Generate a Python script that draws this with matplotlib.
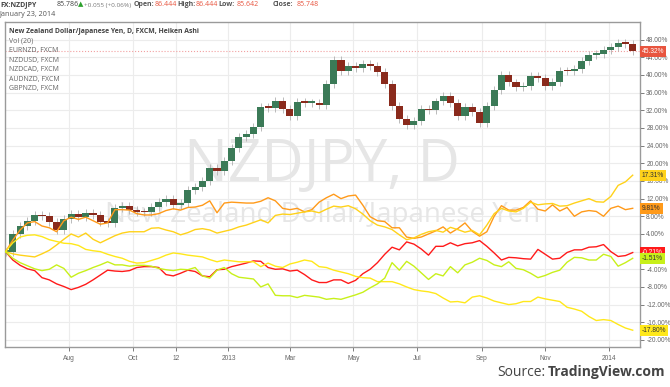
import matplotlib
matplotlib.use('Agg')
import matplotlib.pyplot as plt
import matplotlib.transforms as mtransforms
from matplotlib.ticker import FuncFormatter
import pandas as pd
import numpy as np

plt.rcParams['font.family'] = ['Open Sans', 'DejaVu Sans']

# weekly samples, percent change since start (comparison mode)
dates = pd.date_range('2012-06-01', periods=87, freq='7D')

nzdjpy_ha = [0, 4.0, 5.8, 7.0, 8.3, 8.0, 6.8, 5.0, 7.4, 8.6,
             7.8, 8.7, 8.2, 6.8, 6.5, 9.8, 10.3, 9.4, 9.0, 8.9,
             10.2, 11.2, 12.0, 10.5, 11.0, 14.0, 14.6, 16.0, 19.0, 18.2,
             20.5, 23.5, 26.0, 26.7, 28.3, 32.8, 32.5, 34.2, 32.3, 30.8,
             33.9, 33.6, 33.6, 33.2, 38.0, 43.5, 41.0, 42.0, 41.5, 42.5,
             42.0, 40.7, 38.0, 33.0, 30.0, 28.7, 29.5, 32.3, 32.0, 34.0,
             35.3, 33.6, 30.6, 32.8, 31.6, 29.1, 33.0, 36.6, 40.0, 38.3,
             37.2, 37.5, 39.8, 39.4, 37.5, 38.5, 41.0, 40.8, 41.3, 43.2,
             44.5, 44.8, 45.6, 46.4, 47.2, 47.0, 45.32]

eurnzd = [0, -1.9, -3.1, -3.9, -4.3, -5.9, -6.4, -7.3, -7.9, -8.6,
          -8.1, -7.4, -6.4, -5.3, -4.2, -4.4, -4.5, -4.3, -3.6, -3.4,
          -3.4, -3.6, -5.2, -5.5, -4.9, -4.2, -4.5, -5.5, -5.7, -4.1,
          -4.0, -3.4, -3.0, -2.6, -2.1, -2.2, -3.6, -4.0, -3.9, -4.4,
          -4.2, -5.2, -6.4, -7.0, -7.0, -6.4, -6.4, -7.2, -6.5, -5.0,
          -4.0, -2.5, -0.6, 1.0, 0.4, 2.2, 1.7, 0.6, -0.8, 1.2,
          1.2, 2.0, 1.3, 1.8, 2.0, 2.5, 1.2, -0.3, -1.9, -1.3,
          -1.4, -1.6, -1.7, 0.5, -0.6, -1.7, -1.5, -0.2, 0.4, 0.4,
          1.0, 1.1, 1.6, 0.0, -1.1, -0.9, -0.21]

nzdusd = [0, 2.6, 4.9, 6.5, 6.8, 5.8, 5.4, 4.5, 7.0, 7.8,
          7.3, 7.8, 7.0, 6.2, 6.5, 9.5, 9.5, 9.4, 8.6, 8.3,
          8.3, 8.6, 9.3, 9.7, 9.4, 10.0, 10.1, 10.5, 11.5, 8.8,
          11.0, 11.2, 11.1, 11.0, 11.0, 11.4, 12.2, 11.5, 9.8, 9.5,
          9.8, 9.0, 9.5, 11.2, 12.2, 13.0, 12.0, 12.6, 12.8, 10.5,
          7.9, 7.0, 6.8, 5.4, 5.4, 3.3, 3.0, 3.3, 4.0, 4.7,
          5.6, 4.2, 5.2, 6.5, 4.6, 3.5, 4.5, 8.0, 10.4, 9.4,
          9.4, 10.0, 11.5, 9.6, 9.2, 10.6, 9.2, 10.0, 8.0, 9.0,
          9.3, 9.1, 8.0, 9.8, 10.3, 9.5, 9.81]

nzdcad = [0, -0.5, -0.8, -1.0, -1.2, -0.5, 0.3, 1.5, 2.8, 4.0,
          3.3, 4.2, 2.8, 2.0, 2.8, 3.6, 4.2, 4.5, 4.5, 4.5,
          5.3, 5.4, 4.9, 4.5, 3.8, 4.3, 5.0, 5.2, 4.9, 4.2,
          4.6, 5.0, 5.6, 6.0, 6.6, 7.2, 6.5, 8.2, 8.5, 8.4,
          8.7, 9.0, 9.2, 8.8, 9.6, 10.3, 10.1, 10.4, 9.7, 8.5,
          7.0, 6.0, 5.6, 5.0, 3.8, 2.7, 3.1, 3.9, 4.5, 4.8,
          4.4, 5.5, 5.0, 4.4, 4.8, 3.8, 6.0, 8.6, 9.8, 9.2,
          9.0, 9.8, 11.2, 10.6, 10.8, 10.9, 10.3, 10.4, 11.0, 11.5,
          12.0, 11.3, 11.2, 12.5, 15.0, 15.8, 17.31]

audnzd = [0, 2.0, 3.3, 3.7, 3.8, 3.4, 2.7, 2.3, 1.9, 1.8,
          1.4, 0.5, 0.2, 0.0, -0.6, -1.1, -1.5, -2.2, -2.6, -2.5,
          -2.0, -1.5, -0.8, -0.3, -0.5, -0.8, -1.0, -1.2, -1.8, -2.3,
          -1.9, -2.1, -2.3, -2.3, -2.3, -3.4, -2.6, -3.3, -3.6, -2.8,
          -2.4, -1.9, -2.2, -3.4, -3.6, -4.2, -4.6, -5.0, -5.6, -5.9,
          -6.0, -6.8, -6.8, -6.8, -7.3, -8.0, -8.6, -8.9, -9.1, -9.5,
          -10.5, -11.4, -11.3, -11.6, -10.3, -10.0, -10.5, -11.2, -11.6, -12.0,
          -11.8, -11.3, -11.3, -10.3, -10.7, -11.0, -11.3, -12.6, -13.0, -13.5,
          -14.7, -15.6, -15.4, -15.6, -16.5, -17.3, -17.80]

gbpnzd = [0, -1.5, -2.5, -3.2, -3.9, -4.3, -4.0, -3.0, -3.8, -5.8,
          -4.9, -4.3, -3.6, -3.0, -2.3, -3.0, -3.0, -3.3, -3.1, -3.1,
          -3.3, -3.8, -4.1, -4.3, -4.0, -4.1, -3.6, -5.5, -6.0, -4.2,
          -3.6, -5.0, -5.8, -6.0, -6.2, -8.0, -7.3, -9.9, -10.0, -10.0,
          -10.4, -9.9, -10.1, -10.3, -10.8, -10.6, -10.8, -10.3, -9.8, -9.2,
          -8.2, -7.3, -6.0, -2.5, -4.2, -2.2, -3.3, -4.8, -6.3, -5.0,
          -5.5, -3.4, -4.8, -3.0, -2.4, -1.5, -2.0, -3.0, -3.4, -2.3,
          -3.8, -4.1, -4.9, -5.9, -5.4, -4.7, -4.2, -2.4, -1.3, -1.4,
          -1.9, -1.9, -0.6, -1.1, -3.3, -2.5, -1.51]

series_names = ['EURNZD', 'NZDUSD', 'NZDCAD', 'AUDNZD', 'GBPNZD']
series_colors = ['#ff1a1a', '#ff9a1a', '#ffd21a', '#ffe81a', '#c8f01a']
series_values = [eurnzd, nzdusd, nzdcad, audnzd, gbpnzd]

x_ticks = ['2012-08-01', '2012-10-01', '2012-11-12', '2013-01-01', '2013-03-01',
           '2013-05-01', '2013-07-01', '2013-09-01', '2013-11-01', '2014-01-01']
x_labels = ['Aug', 'Oct', '12', '2013', 'Mar', 'May', 'Jul', 'Sep', 'Nov', '2014']
y_ticks = list(range(-20, 49, 4))

W, H = 670, 387
fig = plt.figure(figsize=(W / 100, H / 100), dpi=100)
ax = fig.add_axes([5 / W, 40 / H, 635 / W, 325 / H])

# heiken ashi candles
close = np.array(nzdjpy_ha)
opn = np.concatenate([[0], close[:-1]])
lo = np.minimum(opn, close)
hi = np.maximum(opn, close)
up = close >= opn
ax.vlines(dates, lo - 0.9, hi + 0.9, color='#b0b0b0', lw=0.6, zorder=3)
ax.bar(dates, np.maximum(hi - lo, 0.4), bottom=lo, width=6.8,
       color=np.where(up, '#3b7a57', '#8a2a1c'), zorder=4)

for vals, col in zip(series_values, series_colors):
    ax.plot(dates, vals, color=col, lw=1.0, zorder=5)

ax.axhline(nzdjpy_ha[-1], color='#f2a0a0', ls=':', lw=0.8, zorder=2)

# watermark
ax.text(0.5, 0.56, 'NZDJPY, D', transform=ax.transAxes, ha='center', va='center',
        fontsize=42, color='#e6e6e6', zorder=1)
ax.text(0.5, 0.405, 'New Zealand Dollar/Japanese Yen', transform=ax.transAxes,
        ha='center', va='center', fontsize=20, color='#e6e6e6', zorder=1)

ax.set_xlim(pd.Timestamp('2012-05-31 12:00'), pd.Timestamp('2014-01-31'))
ax.set_ylim(-21.6, 52)
ax.set_xticks(pd.to_datetime(x_ticks))
ax.set_xticklabels(x_labels)
ax.set_yticks(y_ticks)
ax.yaxis.tick_right()
ax.yaxis.set_major_formatter(FuncFormatter(lambda v, p: '%.2f%%' % v))
ax.tick_params(axis='both', labelsize=4.8, colors='#666666', length=3, width=0.6,
               labelfontfamily='Liberation Sans')
ax.tick_params(axis='x', pad=3)
ax.tick_params(axis='y', pad=1.5)
ax.grid(color='#ececec', lw=0.8, zorder=0)
ax.set_axisbelow(True)
for s in ax.spines.values():
    s.set_color('#9a9a9a')
    s.set_linewidth(1.0)

# last value labels on the price scale
tr = mtransforms.blended_transform_factory(ax.transAxes, ax.transData)
last_vals = [nzdjpy_ha[-1]] + [v[-1] for v in series_values]
last_bg = ['#e8553f'] + series_colors
last_fg = ['white', 'white', '#333333', '#333333', '#333333', '#333333']
for val, bg, fg in zip(last_vals, last_bg, last_fg):
    ax.text(1.003, val, '%.2f%%' % val, transform=tr, ha='left', va='center',
            fontsize=4.8, color=fg, family='Liberation Sans', clip_on=False, zorder=10,
            bbox=dict(boxstyle='square,pad=0.3', fc=bg, ec='none'))

# chart legend
ax.text(0.007, 0.972, 'New Zealand Dollar/Japanese Yen, D, FXCM, Heiken Ashi',
        transform=ax.transAxes, fontsize=4.95, fontweight='bold', color='#444444', va='center')
legend_rows = ['Vol (20)'] + [n + ', FXCM' for n in series_names]
for i, t in enumerate(legend_rows):
    ax.text(0.007, 0.942 - i * 0.0295, t, transform=ax.transAxes, fontsize=5.0,
            color='#666666', va='center')

# header
def px(x, y):
    return x / W, 1 - y / H

header = [(0, 'FX:NZDJPY', 'bold', '#444444', 5.0), (57, '85.786', 'normal', '#444444', 5.0),
          (78, '\u25b2', 'normal', '#2ca02c', 5.0), (84, '+0.055 (+0.06%)', 'normal', '#777777', 4.6),
          (134, 'Open:', 'bold', '#555555', 5.0), (155, '86.444', 'normal', '#e8553f', 5.0),
          (177, 'High:', 'bold', '#555555', 5.0), (196, '86.444', 'normal', '#e8553f', 5.0),
          (218, 'Low:', 'bold', '#555555', 5.0), (237, '85.642', 'normal', '#e8553f', 5.0),
          (273, 'Close:', 'bold', '#555555', 5.0), (297, '85.748', 'normal', '#e8553f', 5.0)]
for x, t, w, c, fs in header:
    fig.text(*px(x, 5), t, fontsize=fs, fontweight=w, color=c, va='center',
             family=['Open Sans', 'DejaVu Sans'])
fig.text(*px(0, 14.5), 'January 23, 2014', fontsize=5.2, color='#555555', va='center')

fig.text(*px(497, 372), 'Source:', fontsize=10, color='#444444', va='center')
fig.text(*px(548, 372), 'TradingView.com', fontsize=10, fontweight='bold',
         color='#444444', va='center')

plt.savefig('out.png', dpi=100)
